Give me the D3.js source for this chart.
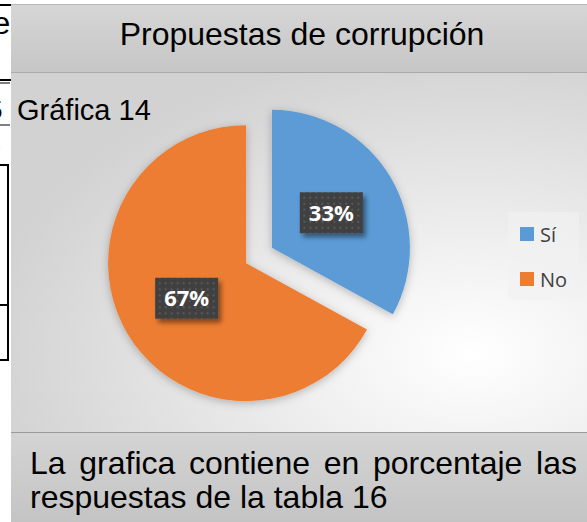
<!DOCTYPE html>
<html>
<head>
<meta charset="utf-8">
<title>Propuestas de corrupción</title>
<script src="https://d3js.org/d3.v7.min.js"></script>
<style>
body { margin: 0; background: #fff; }
svg { display: block; }
</style>
</head>
<body>
<svg id="chart" width="587" height="522"></svg>
<script>
// datos de la grafica
var categories = ["Sí", "No"];
var values = [33, 67];
var colors = ["#5B9BD5", "#ED7D31"];
var chartTitle = "Propuestas de corrupción";
var caption = "Gráfica 14";
var noteLines = ["La grafica contiene en porcentaje las", "respuestas de la tabla 16"];

var W = 587, H = 522;
var svg = d3.select("#chart");
var defs = svg.append("defs");

// gradients
var gTitle = defs.append("linearGradient").attr("id", "gTitle")
	.attr("x1", 0).attr("y1", 0).attr("x2", 0).attr("y2", 1);
gTitle.append("stop").attr("offset", "0%").attr("stop-color", "#d6d6d6");
gTitle.append("stop").attr("offset", "100%").attr("stop-color", "#c6c6c6");

var gNote = defs.append("linearGradient").attr("id", "gNote")
	.attr("x1", 0).attr("y1", 0).attr("x2", 0).attr("y2", 1);
gNote.append("stop").attr("offset", "0%").attr("stop-color", "#d4d4d4");
gNote.append("stop").attr("offset", "100%").attr("stop-color", "#c4c4c4");

var gPlot = defs.append("radialGradient").attr("id", "gPlot")
	.attr("cx", "80%").attr("cy", "78%").attr("r", "85%");
gPlot.append("stop").attr("offset", "0%").attr("stop-color", "#ffffff");
gPlot.append("stop").attr("offset", "35%").attr("stop-color", "#f0f0f0");
gPlot.append("stop").attr("offset", "100%").attr("stop-color", "#d2d2d2");

// dotted pattern for data labels
var pat = defs.append("pattern").attr("id", "dots")
	.attr("width", 6).attr("height", 6).attr("patternUnits", "userSpaceOnUse");
pat.append("rect").attr("width", 6).attr("height", 6).attr("fill", "#404040");
pat.append("rect").attr("x", 2).attr("y", 2).attr("width", 2).attr("height", 2).attr("fill", "#585858");

var fPie = defs.append("filter").attr("id", "fPie")
	.attr("x", "-20%").attr("y", "-20%").attr("width", "140%").attr("height", "140%");
fPie.append("feDropShadow").attr("dx", 0).attr("dy", 2).attr("stdDeviation", 4)
	.attr("flood-color", "#000").attr("flood-opacity", 0.25);

var fLab = defs.append("filter").attr("id", "fLab")
	.attr("x", "-30%").attr("y", "-30%").attr("width", "170%").attr("height", "170%");
fLab.append("feDropShadow").attr("dx", 3).attr("dy", 4).attr("stdDeviation", 2.5)
	.attr("flood-color", "#000").attr("flood-opacity", 0.45);

// pedazos de la tabla de la izquierda
var tbl = svg.append("g").attr("stroke", "#000").attr("fill", "none");
tbl.append("path").attr("d", "M0,5 H12 V80 H0").attr("stroke-width", 2);
tbl.append("path").attr("d", "M0,83 H10").attr("stroke-width", 1);
tbl.append("path").attr("d", "M0,125 H10").attr("stroke-width", 1);
tbl.append("path").attr("d", "M0,165 H8 V360 H0 M0,305 H8").attr("stroke-width", 2);
var tblText = svg.append("g").attr("font-family", "Liberation Sans, Arial, sans-serif")
	.attr("fill", "#000");
tblText.append("text").attr("x", -7).attr("y", 34).attr("font-size", 31).text("e");
tblText.append("text").attr("x", -12).attr("y", 119).attr("font-size", 26).text("5");
tblText.append("text").attr("x", -4).attr("y", 150).attr("font-size", 20).attr("fill", "#888").text(".");

// panel
var px = 11;
svg.append("rect").attr("x", px).attr("y", 4).attr("width", W - px).attr("height", 68)
	.attr("fill", "url(#gTitle)");
svg.append("rect").attr("x", px).attr("y", 72).attr("width", W - px).attr("height", 360)
	.attr("fill", "url(#gPlot)");
svg.append("rect").attr("x", px).attr("y", 432).attr("width", W - px).attr("height", 90)
	.attr("fill", "url(#gNote)");
svg.append("line").attr("x1", px).attr("x2", W).attr("y1", 4.5).attr("y2", 4.5)
	.attr("stroke", "#b8b8b8");
svg.append("line").attr("x1", px).attr("x2", W).attr("y1", 72.5).attr("y2", 72.5)
	.attr("stroke", "#aaaaaa");
svg.append("line").attr("x1", px).attr("x2", W).attr("y1", 432.5).attr("y2", 432.5)
	.attr("stroke", "#9a9a9a");

// titulo
svg.append("text").attr("x", 302).attr("y", 45).attr("text-anchor", "middle")
	.attr("font-family", "Liberation Sans, Arial, sans-serif").attr("font-size", 32)
	.attr("fill", "#000").text(chartTitle);

svg.append("text").attr("x", 17).attr("y", 120)
	.attr("font-family", "Liberation Sans, Arial, sans-serif").attr("font-size", 29)
	.attr("fill", "#000").text(caption);

// pastel
var cx = 259, cy = 255.5, r = 138, explode = 15;
var pie = d3.pie().sort(null).value(function (d) { return d; });
var arc = d3.arc().innerRadius(0).outerRadius(r);
var arcs = pie(values);

function offset(d, dist) {
	var a = (d.startAngle + d.endAngle) / 2;
	return [Math.sin(a) * dist, -Math.cos(a) * dist];
}

var pieG = svg.append("g").attr("transform", "translate(" + cx + "," + cy + ")");
pieG.selectAll("path.slice").data(arcs).enter().append("path")
	.attr("class", "slice")
	.attr("filter", "url(#fPie)")
	.attr("fill", function (d, i) { return colors[i]; })
	.attr("transform", function (d) {
		var o = offset(d, explode);
		return "translate(" + o[0] + "," + o[1] + ")";
	})
	.attr("d", arc);

// etiquetas de datos
var labs = pieG.selectAll("g.lab").data(arcs).enter().append("g")
	.attr("class", "lab")
	.attr("transform", function (d) {
		var o = offset(d, explode + r / 2);
		return "translate(" + o[0] + "," + o[1] + ")";
	});
labs.append("rect").attr("x", -31.5).attr("y", -20.5).attr("width", 63).attr("height", 41)
	.attr("fill", "url(#dots)").attr("filter", "url(#fLab)");
labs.append("text").attr("y", 8).attr("text-anchor", "middle")
	.attr("font-family", "Open Sans, sans-serif").attr("font-weight", 700)
	.attr("font-size", 22).attr("fill", "#fff")
	.text(function (d) { return d.data + "%"; });

// leyenda
var legend = svg.append("g");
legend.append("rect").attr("x", 508).attr("y", 212).attr("width", 71).attr("height", 88)
	.attr("fill", "#f2f2f2").attr("opacity", 0.6);
var li = legend.selectAll("g.item").data(categories).enter().append("g")
	.attr("class", "item")
	.attr("transform", function (d, i) { return "translate(520," + (227 + i * 45) + ")"; });
li.append("rect").attr("width", 14).attr("height", 14)
	.attr("fill", function (d, i) { return colors[i]; });
li.append("text").attr("x", 20).attr("y", 14.5)
	.attr("font-family", "Open Sans, sans-serif").attr("font-size", 20)
	.attr("fill", "#404040").text(function (d) { return d; });

// nota al pie, justificada
var noteG = svg.append("g").attr("font-family", "Liberation Sans, Arial, sans-serif")
	.attr("font-size", 32).attr("fill", "#000");
var nx0 = 30, nx1 = 577;
noteLines.forEach(function (line, li) {
	var y = 474 + li * 34;
	var words = line.split(" ");
	if (li === noteLines.length - 1) {
		noteG.append("text").attr("x", nx0).attr("y", y).text(line);
		return;
	}
	// measure words then spread them to full width
	var widths = words.map(function (w) {
		var t = noteG.append("text").text(w);
		var wd = t.node().getComputedTextLength();
		t.remove();
		return wd;
	});
	var total = d3.sum(widths);
	var gap = (nx1 - nx0 - total) / (words.length - 1);
	var x = nx0;
	words.forEach(function (w, i) {
		noteG.append("text").attr("x", x).attr("y", y).text(w);
		x += widths[i] + gap;
	});
});
</script>
</body>
</html>
